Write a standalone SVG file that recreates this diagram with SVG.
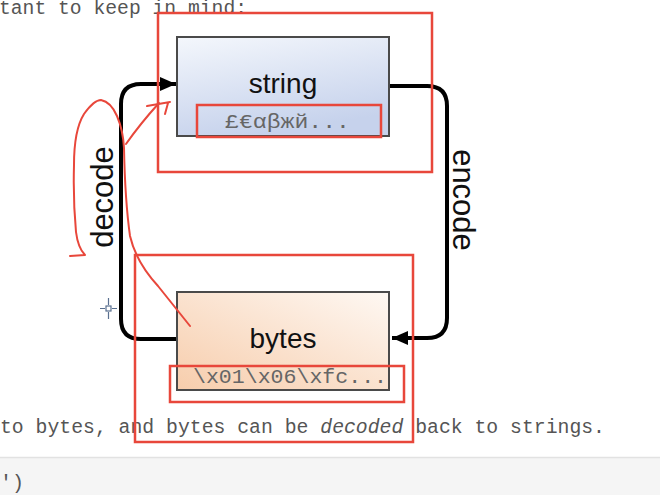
<svg xmlns="http://www.w3.org/2000/svg" width="660" height="495" viewBox="0 0 660 495">
<style>
.page{font-family:"Liberation Mono","DejaVu Sans Mono",monospace;font-size:20px;fill:#555}
.node{stroke:#4a4a4a;stroke-width:2}
.lbl{font-family:"Liberation Sans",Arial,sans-serif;font-size:28px;fill:#111;text-anchor:middle}
.sub{font-family:"Liberation Mono","DejaVu Sans Mono",monospace;font-size:20px;fill:#666}
.edge{fill:none;stroke:#000;stroke-width:4}
.elbl{font-family:"Liberation Sans",Arial,sans-serif;font-size:31px;fill:#111;text-anchor:middle}
.mark{fill:none;stroke:#e8473b;stroke-width:2.5}
.ink{fill:none;stroke:#e8473b;stroke-width:2;stroke-linecap:round;stroke-linejoin:round}
</style>
<defs>
<linearGradient id="gStr" x1="0" y1="0" x2="0.35" y2="1">
<stop offset="0" stop-color="#f4f7fc"/>
<stop offset="1" stop-color="#c6d2ec"/>
</linearGradient>
<linearGradient id="gByt" x1="1" y1="0" x2="0" y2="1">
<stop offset="0" stop-color="#fef8f3"/>
<stop offset="1" stop-color="#f7cdac"/>
</linearGradient>
<marker id="arr" markerWidth="16" markerHeight="14" refX="16" refY="7" orient="auto" markerUnits="userSpaceOnUse">
<path d="M0,0 L16,7 L0,14 Z" fill="#000"/>
</marker>
</defs>
<rect width="660" height="495" fill="#fff"/>
<g id="page-text">
<text class="page" x="-1" y="14" textLength="248" lengthAdjust="spacingAndGlyphs">tant to keep in mind:</text>
<text class="page" x="0" y="433" textLength="605" lengthAdjust="spacingAndGlyphs">to bytes, and bytes can be <tspan font-style="italic">decoded</tspan> back to strings.</text>
<rect x="0" y="457" width="660" height="38" fill="#f5f5f5"/>
<line x1="0" y1="457.5" x2="660" y2="457.5" stroke="#e2e2e2" stroke-width="1.5"/>
<text class="page" x="0" y="489">')</text>
</g>
<g id="connectors">
<path class="edge" d="M389,86 L427,86 Q447,86 447,106 L447,318 Q447,338 427,338 L392,338" marker-end="url(#arr)"/>
<path class="edge" d="M177,339 L141,339 Q121,339 121,319 L121,104 Q121,84 141,84 L176,84" marker-end="url(#arr)"/>
<text class="elbl" transform="translate(453,200) rotate(90)">encode</text>
<text class="elbl" transform="translate(113,197) rotate(-90)">decode</text>
</g>
<g id="node-string">
<rect class="node" x="177" y="37" width="212" height="99" fill="url(#gStr)"/>
<text class="lbl" x="283" y="93">string</text>
<text class="sub" x="225" y="128" textLength="125" lengthAdjust="spacingAndGlyphs">£€αβжй...</text>
</g>
<g id="node-bytes">
<rect class="node" x="177" y="292" width="212" height="98" fill="url(#gByt)"/>
<text class="lbl" x="283" y="348">bytes</text>
<text class="sub" x="193" y="383" textLength="194" lengthAdjust="spacingAndGlyphs">\x01\x06\xfc...</text>
</g>
<g id="annotations">
<rect class="mark" x="158" y="13" width="274" height="159"/>
<rect class="mark" x="197" y="105" width="184" height="32"/>
<rect class="mark" x="135" y="255" width="278" height="187"/>
<rect class="mark" x="170" y="366" width="234" height="36"/>
<path class="ink" d="M70,256 L85,255 Q78,248 76,232 Q73,200 74,165 Q74,130 84,114 Q94,100 101,100 Q111,102 117,116 Q123,130 124,148 Q125,200 130,236 Q136,262 158,286 L190,326"/>
<path class="ink" d="M126,144 Q140,124 159,103"/>
<path class="ink" d="M147,106 L170,102 M168,103 L165,114"/>
<g stroke="#5a7090" stroke-width="1.2" fill="none">
<rect x="106" y="306" width="5" height="5" fill="#fff"/>
<path d="M108.5,298 V305 M108.5,312 V319 M100,308.5 H105 M112,308.5 H117"/>
</g>
</g>
</svg>
